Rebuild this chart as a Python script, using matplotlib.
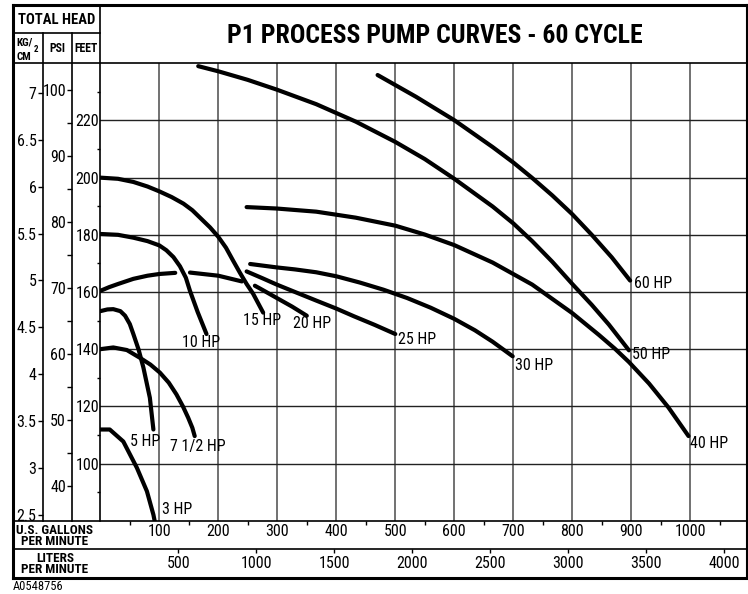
import numpy as np
import matplotlib
matplotlib.use("Agg")
import matplotlib.pyplot as plt
from matplotlib import font_manager as fm
from matplotlib.ticker import FixedLocator

# === FONT: the chart uses a condensed sans, take the narrowest one installed ===
installed = {(f.name, f.stretch) for f in fm.fontManager.ttflist}
font_name, font_stretch = 'Roboto', 'normal'
for cand in ['Liberation Sans Narrow', 'Roboto Condensed', 'Arial Narrow', 'Open Sans Condensed']:
    if any(n == cand for n, _ in installed):
        font_name, font_stretch = cand, 'normal'
        break
else:
    if ('DejaVu Sans', 'condensed') in installed:
        font_name, font_stretch = 'DejaVu Sans', 'condensed'
plt.rcParams['font.family'] = [font_name, 'DejaVu Sans']
plt.rcParams['font.stretch'] = font_stretch

# === DATA: flow in U.S. GPM, head in feet ===
hp3_gpm = [0, 16, 39, 62, 79, 90, 93]
hp3_ft = [111.9, 111.9, 107.7, 98.5, 90.3, 82.1, 79.0]
hp5_gpm = [0, 12, 22, 34, 42, 50, 56, 65, 73, 84, 90]
hp5_ft = [153.3, 153.9, 154.0, 153.3, 151.7, 148.8, 145.3, 139.8, 133.6, 123.0, 111.9]
hp7_gpm = [0, 22, 45, 67, 85, 101, 116, 129, 140, 149, 156, 160]
hp7_ft = [140.0, 140.6, 139.7, 137.0, 134.6, 131.8, 128.3, 124.2, 120.0, 116.0, 112.5, 109.6]
hp10_gpm = [0, 30, 56, 80, 100, 112, 124, 135, 145, 152, 165, 180]
hp10_ft = [180.3, 180.0, 179.0, 177.8, 176.3, 174.6, 172.2, 169.0, 165.0, 160.4, 153.0, 145.3]
hp15_gpm = [0, 30, 56, 80, 100, 121, 141, 156, 169, 186, 200, 213, 225, 237, 248, 259, 276]
hp15_ft = [200.0, 199.6, 198.5, 196.9, 195.2, 193.2, 190.9, 188.6, 186.0, 182.6, 179.3, 175.5, 171.0, 166.6, 162.8, 159.4, 152.8]
# 20 HP line is broken where the 10 HP and 15 HP curves cross it
hp20_gpm = [0, 15, 30, 56, 80, 100, 127, np.nan, 152, 200, 240, np.nan, 262, 276, 300, 325, 350]
hp20_ft = [160.4, 161.7, 162.8, 164.6, 165.7, 166.3, 166.7, np.nan, 166.8, 165.7, 163.7, np.nan, 162.2, 160.6, 157.8, 154.9, 151.7]
hp25_gpm = [248, 275, 299, 330, 366, 400, 430, 465, 500]
hp25_ft = [167.2, 164.8, 162.6, 160.0, 157.0, 154.2, 151.5, 148.5, 145.3]
hp30_gpm = [254, 299, 330, 366, 400, 440, 480, 520, 560, 600, 635, 665, 699]
hp30_ft = [169.8, 168.6, 167.9, 166.9, 165.5, 163.3, 160.8, 157.9, 154.5, 150.6, 146.6, 142.6, 137.5]
hp40_gpm = [248, 299, 366, 433, 500, 550, 600, 665, 732, 800, 845, 872, 896, 930, 963, 997]
hp40_ft = [189.7, 189.2, 188.1, 186.0, 183.2, 180.1, 176.4, 170.3, 162.6, 152.6, 145.0, 140.2, 135.5, 128.0, 119.6, 109.6]
hp50_gpm = [166, 200, 250, 299, 366, 433, 500, 550, 600, 665, 700, 732, 766, 800, 833, 862, 896]
hp50_ft = [239.0, 237.2, 234.2, 230.8, 225.7, 219.6, 212.5, 206.5, 199.6, 189.9, 184.0, 177.8, 170.6, 162.8, 155.5, 148.6, 139.6]
hp60_gpm = [470, 535, 600, 665, 700, 732, 766, 800, 833, 867, 898]
hp60_ft = [235.9, 228.3, 220.1, 210.7, 205.3, 199.9, 193.8, 187.2, 180.0, 172.1, 164.0]

curve_names = ["3 HP", "5 HP", "7 1/2 HP", "10 HP", "15 HP", "20 HP",
               "25 HP", "30 HP", "40 HP", "50 HP", "60 HP"]
# where each label sits (GPM of its left edge, feet)
label_gpm = [105, 50, 118, 139, 242, 327, 505, 703, 1000, 901, 905]
label_ft = [84, 107.7, 106, 142.2, 150, 149, 143.5, 134.2, 107, 138, 163]

gpm_ticks = [100, 200, 300, 400, 500, 600, 700, 800, 900, 1000]
gpm_minor = [50, 150, 250, 350, 450, 550, 650, 750, 850, 950, 1050]
lpm_ticks = [500, 1000, 1500, 2000, 2500, 3000, 3500, 4000]
feet_ticks = [100, 120, 140, 160, 180, 200, 220]
feet_minor = [90, 110, 130, 150, 170, 190, 210, 230]
psi_ticks = [40, 50, 60, 70, 80, 90, 100]
psi_minor = [45, 55, 65, 75, 85, 95]
kg_ticks = [2.5, 3, 3.5, 4, 4.5, 5, 5.5, 6, 6.5, 7]
kg_labels = ["2.5", "3", "3.5", "4", "4.5", "5", "5.5", "6", "6.5", "7"]

FT_PER_PSI = 2.307
FT_PER_KG = 32.81
L_PER_GAL = 3.785

# === LAYOUT (pixel coords of the 748x594 picture) ===
W, H = 748, 594
def rect(x0, y0, x1, y1):
    return [x0 / W, 1 - y1 / H, (x1 - x0) / W, (y1 - y0) / H]

PX0, PX1, PY0, PY1 = 100.3, 747, 63.3, 520.7
ft_lo, ft_hi = 80, 240
gpm_hi = (PX1 - PX0) / 0.59
fs = 11.5

fig = plt.figure(figsize=(7.48, 5.94), dpi=100)

# main plot
ax = fig.add_axes(rect(PX0, PY0, PX1, PY1))
ax.set_facecolor('none')
ax.set_xlim(0, gpm_hi)
ax.set_ylim(ft_lo, ft_hi)
for s in ax.spines.values():
    s.set_visible(False)
for g in gpm_ticks:
    ax.axvline(g, color='#4a4a4a', lw=1.1, zorder=1)
for f in feet_ticks:
    ax.axhline(f, color='#222222', lw=1.0, zorder=1)

curves = [(hp3_gpm, hp3_ft), (hp5_gpm, hp5_ft), (hp7_gpm, hp7_ft),
          (hp20_gpm, hp20_ft), (hp10_gpm, hp10_ft), (hp15_gpm, hp15_ft),
          (hp25_gpm, hp25_ft), (hp30_gpm, hp30_ft), (hp40_gpm, hp40_ft),
          (hp50_gpm, hp50_ft), (hp60_gpm, hp60_ft)]
for q, h in curves:
    ax.plot(q, h, color='black', lw=3.0, solid_capstyle='round',
            solid_joinstyle='round', zorder=3)

for name, q, h in zip(curve_names, label_gpm, label_ft):
    ax.text(q, h, name, ha='left', va='center', fontsize=fs, zorder=4)

ax.yaxis.set_visible(False)
ax.set_xticks(gpm_ticks, [str(v) for v in gpm_ticks])
ax.xaxis.set_minor_locator(FixedLocator(gpm_minor))
ax.tick_params(axis='x', which='major', length=0, pad=2.5, labelsize=fs)
ax.tick_params(axis='x', which='minor', length=3, width=1.0, direction='out')

# liters per minute row
axl = fig.add_axes(rect(PX0, 549, PX1, 578))
axl.set_facecolor('none')
axl.set_xlim(0, gpm_hi * L_PER_GAL)
axl.yaxis.set_visible(False)
for s in axl.spines.values():
    s.set_visible(False)
axl.set_xticks(lpm_ticks, [str(v) for v in lpm_ticks])
axl.tick_params(axis='x', top=True, bottom=False, labeltop=False, labelbottom=True,
                direction='in', length=3, width=1.0, pad=-15.5, labelsize=fs)

# head columns: kg/cm2, psi, feet
axk = fig.add_axes(rect(13, PY0, 43, PY1))
axk.set_ylim(ft_lo / FT_PER_KG, ft_hi / FT_PER_KG)
axk.set_yticks(kg_ticks, kg_labels, ha='right')
axp = fig.add_axes(rect(43, PY0, 72, PY1))
axp.set_ylim(ft_lo / FT_PER_PSI, ft_hi / FT_PER_PSI)
axp.set_yticks(psi_ticks, [str(v) for v in psi_ticks], ha='right')
axp.yaxis.set_minor_locator(FixedLocator(psi_minor))
axf = fig.add_axes(rect(72, PY0, PX0, PY1))
axf.set_ylim(ft_lo, ft_hi)
axf.set_yticks(feet_ticks, [str(v) for v in feet_ticks], ha='right')
axf.yaxis.set_minor_locator(FixedLocator(feet_minor))
for a in (axk, axp, axf):
    a.set_facecolor('none')
    a.xaxis.set_visible(False)
    for s in a.spines.values():
        s.set_visible(False)
    a.yaxis.tick_right()
axk.tick_params(axis='y', direction='in', length=3.6, width=1.0, pad=-4.6, labelsize=fs)
axp.tick_params(axis='y', which='both', direction='in', length=3.6, width=1.0, pad=-4.3, labelsize=fs)
axf.tick_params(axis='y', which='major', length=0, pad=-0.8, labelsize=fs)
axf.tick_params(axis='y', which='minor', direction='in', length=2.5, width=1.0)

# frame and header text
bg = fig.add_axes([0, 0, 1, 1], zorder=10)
bg.set_facecolor('none')
bg.set_xlim(0, W)
bg.set_ylim(H, 0)
bg.axis('off')
thick = dict(color='black', lw=2.2, solid_capstyle='projecting')
thin = dict(color='black', lw=1.2)
bg.plot([13, 748], [5, 5], **thick)
bg.plot([13, 13], [5, 578], **thick)
bg.plot([13, 748], [578, 578], **thick)
bg.plot([747, 747], [5, 578], color='black', lw=1.5)
bg.plot([13, PX0], [33, 33], **thin)
bg.plot([13, 748], [PY0, PY0], **thin)
bg.plot([43, 43], [33, PY1], **thin)
bg.plot([72, 72], [33, PY1], **thin)
bg.plot([PX0, PX0], [5, PY1], **thin)
bg.plot([13, 748], [PY1, PY1], **thin)
bg.plot([13, 748], [549, 549], **thin)

bg.text(56.5, 19.5, "TOTAL HEAD", ha='center', va='center', fontsize=10.5, fontweight='bold')
bg.text(25, 42.5, "KG/", ha='center', va='center', fontsize=8, fontweight='bold')
bg.text(36.5, 50, "2", ha='center', va='center', fontsize=6.5, fontweight='bold')
bg.text(24, 57.5, "CM", ha='center', va='center', fontsize=8, fontweight='bold')
bg.text(57.5, 48, "PSI", ha='center', va='center', fontsize=8.5, fontweight='bold')
bg.text(86, 48, "FEET", ha='center', va='center', fontsize=8.5, fontweight='bold')
bg.text(435, 36, "P1 PROCESS PUMP CURVES - 60 CYCLE", ha='center', va='center',
        fontsize=18.5, fontweight='bold')
bg.text(55, 536, "U.S. GALLONS\nPER MINUTE", ha='center', va='center', fontsize=9.5,
        fontweight='bold', linespacing=0.85)
bg.text(55, 564, "LITERS\nPER MINUTE", ha='center', va='center', fontsize=9.5,
        fontweight='bold', linespacing=0.85)
bg.text(13, 586, "A0548756", ha='left', va='center', fontsize=9)

fig.savefig("out.png", dpi=100)
